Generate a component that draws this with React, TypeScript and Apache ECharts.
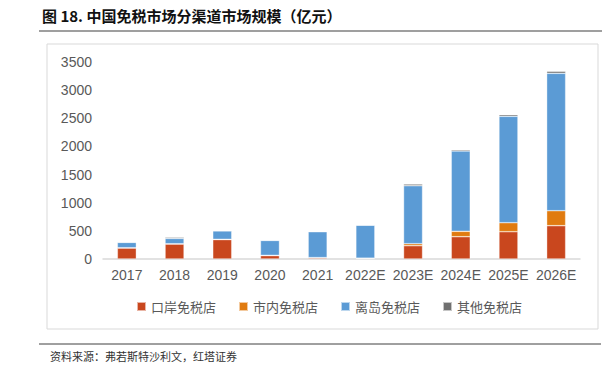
import React, { useEffect, useRef } from "react";
import * as echarts from "echarts";

const categories = ["2017", "2018", "2019", "2020", "2021", "2022E", "2023E", "2024E", "2025E", "2026E"];
const portStores = [195, 266, 345, 60, 20, 10, 236, 396, 485, 592];
const cityStores = [5, 5, 5, 5, 5, 5, 36, 96, 160, 266];
const islandStores = [95, 95, 150, 265, 460, 585, 1030, 1427, 1890, 2441];
const otherStores = [5, 20, 5, 5, 5, 5, 30, 23, 29, 36];
const seriesNames = ["口岸免税店", "市内免税店", "离岛免税店", "其他免税店"];
const colors = ["#C9471E", "#E07B10", "#5B9BD5", "#707070"];

export default function App() {
  const ref = useRef<HTMLDivElement>(null);
  useEffect(() => {
    const chart = echarts.init(ref.current!, null, { renderer: "svg" });
    const datas = [portStores, cityStores, islandStores, otherStores];
    chart.setOption({
      animation: false,
      backgroundColor: "#fff",
      textStyle: { fontFamily: "Liberation Sans, Arial, sans-serif" },
      grid: { left: 103, right: 29, top: 62, bottom: 108, containLabel: false },
      xAxis: {
        type: "category",
        data: categories,
        axisLine: { lineStyle: { color: "#D9D9D9", width: 1.5 } },
        axisTick: { show: false },
        axisLabel: { color: "#595959", fontSize: 14, margin: 9, interval: 0 },
      },
      yAxis: {
        type: "value",
        min: 0,
        max: 3500,
        interval: 500,
        axisLine: { show: false },
        axisTick: { show: false },
        splitLine: { show: false },
        axisLabel: { color: "#595959", fontSize: 14, margin: 11, formatter: (v: number) => String(v) },
      },
      legend: {
        top: 295,
        left: 131,
        itemWidth: 9,
        itemHeight: 9,
        itemGap: 22,
        icon: "rect",
        textStyle: { color: "#595959", fontSize: 13, fontFamily: "Noto Sans CJK SC" },
        data: seriesNames,
      },
      series: datas.map((d, i) => ({
        name: seriesNames[i],
        type: "bar",
        stack: "total",
        data: d,
        barWidth: 19,
        itemStyle: { color: colors[i], borderColor: "rgba(255,255,255,0.6)", borderWidth: 0.6 },
      })),
      graphic: [
        {
          type: "text",
          left: 42,
          top: 8,
          style: {
            text: "图 18. 中国免税市场分渠道市场规模（亿元）",
            fontSize: 15,
            fontWeight: "bold",
            fill: "#111",
            fontFamily: "Noto Sans CJK SC",
          },
        },
        { type: "line", shape: { x1: 39, y1: 31, x2: 602, y2: 31 }, style: { stroke: "#7F7F7F", lineWidth: 1.5 } },
        {
          type: "rect",
          shape: { x: 47, y: 44, width: 551, height: 285 },
          style: { fill: "none", stroke: "#D9D9D9", lineWidth: 1 },
          z: -1,
        },
        { type: "line", shape: { x1: 39, y1: 344, x2: 601, y2: 344 }, style: { stroke: "#404040", lineWidth: 1 } },
        {
          type: "text",
          left: 50,
          top: 350,
          style: {
            text: "资料来源：弗若斯特沙利文，红塔证券",
            fontSize: 11,
            fill: "#333",
            fontFamily: "Noto Sans CJK SC",
          },
        },
      ],
    });
    return () => chart.dispose();
  }, []);
  return <div ref={ref} style={{ width: 609, height: 367, position: "absolute", left: 0, top: 0 }} />;
}
